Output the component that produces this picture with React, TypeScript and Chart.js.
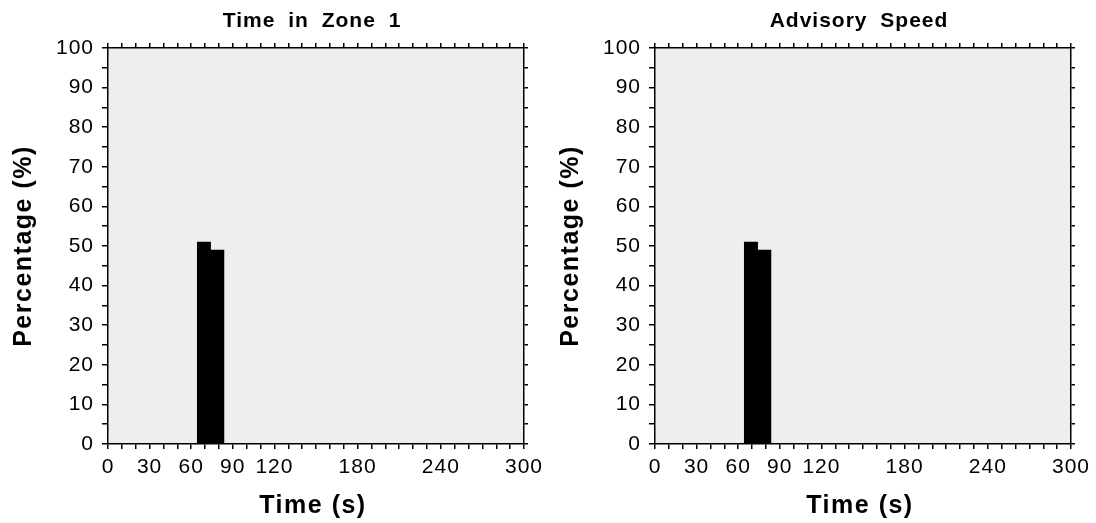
import React, { useEffect, useRef } from 'react';
import { Chart, registerables } from 'chart.js';

Chart.register(...registerables);

// ---- data ----
const binCenters = [69.2, 78.8];
const zone1Percent = [51, 49];
const advisorySpeedPercent = [51, 49];
const xTickLabels = [0, 30, 60, 90, 120, 180, 240, 300];
const yTickLabels = [0, 10, 20, 30, 40, 50, 60, 70, 80, 90, 100];
const xTitle = 'Time (s)';
const yTitle = 'Percentage (%)';
const panelTitles = ['Time in Zone 1', 'Advisory Speed'];

const FONT = "'Liberation Sans', Arial, Helvetica, sans-serif";
const W = 548;
const H = 523;

function Panel({ title, values, left }: { title: string; values: number[]; left: number }) {
  const ref = useRef<HTMLCanvasElement | null>(null);

  useEffect(() => {
    if (!ref.current) return;
    const decor = {
      id: 'decor',
      beforeDraw(chart: any) {
        const { ctx, chartArea: a } = chart;
        ctx.save();
        ctx.fillStyle = '#eeeeee';
        ctx.fillRect(a.left, a.top, a.right - a.left, a.bottom - a.top);
        ctx.restore();
        (ctx as any).letterSpacing = '1px';
      },
      afterDraw(chart: any) {
        const { ctx, chartArea: a } = chart;
        const cx = (a.left + a.right) / 2;
        const cy = (a.top + a.bottom) / 2;
        ctx.save();
        ctx.fillStyle = '#000';
        ctx.textAlign = 'center';
        ctx.textBaseline = 'alphabetic';
        ctx.font = `bold 21px ${FONT}`;
        (ctx as any).letterSpacing = '1px';
        (ctx as any).wordSpacing = '6px';
        ctx.fillText(title, cx - 4, 27);
        (ctx as any).wordSpacing = '0px';
        ctx.font = `bold 25px ${FONT}`;
        (ctx as any).letterSpacing = '1.5px';
        ctx.fillText(xTitle, cx - 3, 513);
        ctx.translate(31, cy);
        ctx.rotate(-Math.PI / 2);
        ctx.fillText(yTitle, 0, 0);
        ctx.restore();
        (ctx as any).letterSpacing = '0px';
      },
    };

    const tickFont = { family: FONT, size: 21 };
    const chart = new Chart(ref.current, {
      type: 'bar',
      data: {
        datasets: [
          {
            data: binCenters.map((x, i) => ({ x, y: values[i] })),
            backgroundColor: '#000',
            borderWidth: 0,
            barPercentage: 1,
            categoryPercentage: 1,
            xAxisID: 'x',
            yAxisID: 'y',
          },
        ],
      },
      options: {
        responsive: false,
        animation: false,
        layout: { padding: 0 },
        plugins: { legend: { display: false }, tooltip: { enabled: false }, title: { display: false } },
        scales: {
          x: {
            type: 'linear',
            position: 'bottom',
            offset: false,
            min: 0,
            max: 300,
            ticks: {
              stepSize: 10,
              autoSkip: false,
              maxRotation: 0,
              color: '#000',
              font: tickFont,
              padding: 6,
              callback: (v: any) => (xTickLabels.includes(Number(v)) ? String(v) : ''),
            },
            grid: { offset: false, drawOnChartArea: false, color: '#000', tickLength: 5, tickWidth: 1.5, lineWidth: 1.5 },
            border: { display: true, color: '#000', width: 1.5 },
            afterFit: (s: any) => { s.height = 79; },
          },
          xTop: {
            type: 'linear',
            position: 'top',
            offset: false,
            min: 0,
            max: 300,
            ticks: { display: false, stepSize: 10, autoSkip: false },
            grid: { offset: false, drawOnChartArea: false, color: '#000', tickLength: 5, tickWidth: 1.5, lineWidth: 1.5 },
            border: { display: true, color: '#000', width: 1.5 },
            afterFit: (s: any) => { s.height = 48; },
          },
          y: {
            type: 'linear',
            position: 'left',
            min: 0,
            max: 100,
            ticks: {
              stepSize: 5,
              autoSkip: false,
              color: '#000',
              font: tickFont,
              padding: 8,
              callback: (v: any) => (yTickLabels.includes(Number(v)) ? String(v) : ''),
            },
            grid: { drawOnChartArea: false, color: '#000', tickLength: 6, tickWidth: 1.5, lineWidth: 1.5 },
            border: { display: true, color: '#000', width: 1.5 },
            afterFit: (s: any) => { s.width = 108; },
          },
          yRight: {
            type: 'linear',
            position: 'right',
            min: 0,
            max: 100,
            ticks: { display: false, stepSize: 5, autoSkip: false },
            grid: { drawOnChartArea: false, color: '#000', tickLength: 4, tickWidth: 1.5, lineWidth: 1.5 },
            border: { display: true, color: '#000', width: 1.5 },
            afterFit: (s: any) => { s.width = 24; },
          },
        },
      } as any,
      plugins: [decor],
    });
    return () => chart.destroy();
  }, [title, values]);

  return (
    <canvas
      ref={ref}
      width={W}
      height={H}
      style={{ position: 'absolute', left, top: 0, width: W, height: H }}
    />
  );
}

export default function App() {
  return (
    <div style={{ position: 'absolute', left: 0, top: 0, width: 1096, height: 523, background: '#fff' }}>
      <Panel title={panelTitles[0]} values={zone1Percent} left={0} />
      <Panel title={panelTitles[1]} values={advisorySpeedPercent} left={547} />
    </div>
  );
}
